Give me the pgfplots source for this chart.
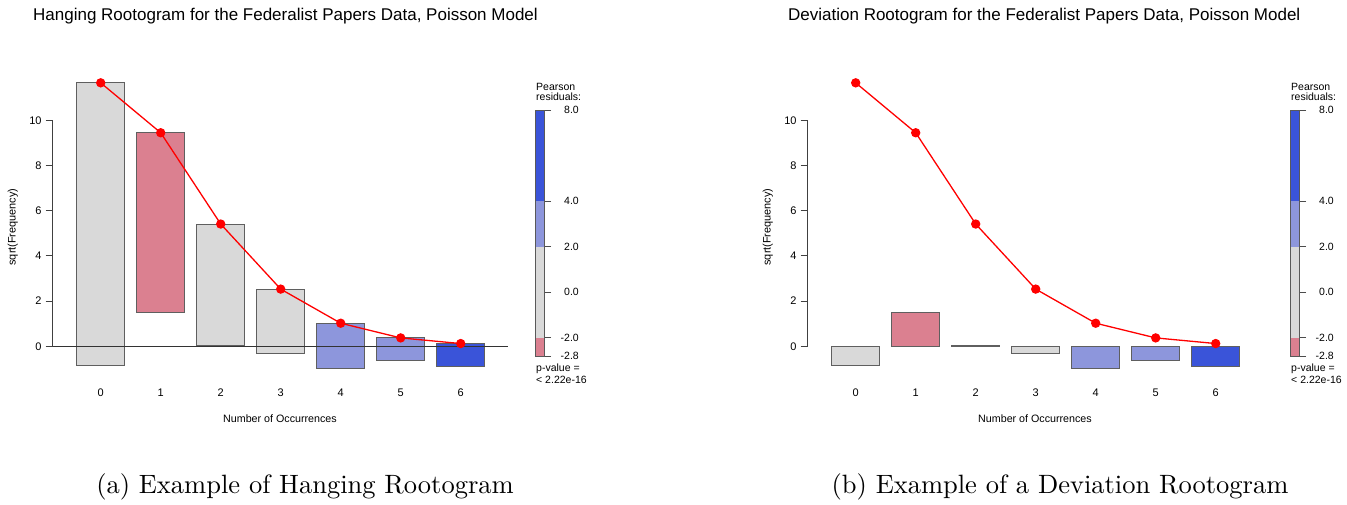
\documentclass[border=0pt]{standalone}
\usepackage{fontspec}
\usepackage{pgfplots}
\pgfplotsset{compat=1.18}
\usepackage{pgfplotstable}
\newfontfamily\arial{Liberation Sans}
\newfontfamily\capfont{lmroman10-regular}[Extension=.otf]
\definecolor{rgray}{RGB}{217,217,217}
\definecolor{rpink}{RGB}{219,128,144}
\definecolor{rlblue}{RGB}{141,150,220}
\definecolor{rdblue}{RGB}{58,84,217}
\definecolor{redge}{RGB}{95,95,95}

% x = number of occurrences, top = sqrt(expected), bottom = sqrt(expected)-sqrt(observed)
\pgfplotstableread{
x top bottom
0 11.66 -0.84
1 9.45 1.50
2 5.41 0.02
3 2.53 -0.30
4 1.02 -0.98
5 0.37 -0.63
6 0.12 -0.88
}\rootdata

\pgfplotsset{
  rootaxis/.style={
    scale only axis, width=455.4pt, height=308.4pt,
    xmin=-0.8, xmax=6.79, ymin=-1.48, ymax=12.17,
    clip=false,
    axis line style={draw=none},
    xtick={0,...,6}, ytick={0,2,...,10},
    xtick pos=bottom, ytick pos=left,
    xtick style={draw=none},
    tick align=outside, major tick length=7pt,
    ytick style={draw=black!75, line width=0.8pt},
    /pgf/number format/assume math mode=true,
    tick label style={font=\arial\fontsize{11}{13}\selectfont},
    xticklabel style={anchor=north, inner sep=2pt},
    yticklabel style={anchor=east, inner sep=2pt, xshift=-2pt},
    every axis x label/.style={at={(axis description cs:0.4991,-0.1274)}, anchor=center, font=\arial\fontsize{10.7}{13}\selectfont},
    every axis y label/.style={at={(axis description cs:-0.0878,0.4951)}, anchor=center, rotate=90, font=\arial\fontsize{10.9}{13}\selectfont},
    xlabel={Number of Occurrences}, ylabel={sqrt(Frequency)},
  },
  legaxis/.style={
    scale only axis, width=9pt, height=246pt,
    xmin=0, xmax=1, ymin=-2.8, ymax=8,
    clip=false,
    axis line style={draw=none},
    xtick=\empty,
    ytick={-2.8,-2,0,2,4,8}, yticklabels={-2.8,-2.0,0.0,2.0,4.0,8.0},
    ytick pos=right, tick align=outside, major tick length=7pt,
    ytick style={draw=black!70, line width=0.7pt},
    yticklabel style={font=\arial\fontsize{10.5}{12}\selectfont, anchor=east, inner sep=0pt, xshift=28pt},
  },
  rootline/.style={red, line width=1.3pt, mark=*, mark size=4pt, mark options={fill=red, draw=red, solid}},
  rbar/.style={fill=#1, draw=redge, line width=0.9pt},
}

\newcommand{\legendbar}{%
  \addplot[fill=rpink, draw=none] coordinates {(0,-2.8) (1,-2.8) (1,-2) (0,-2)} -- cycle;
  \addplot[fill=rgray, draw=none] coordinates {(0,-2) (1,-2) (1,2) (0,2)} -- cycle;
  \addplot[fill=rlblue, draw=none] coordinates {(0,2) (1,2) (1,4) (0,4)} -- cycle;
  \addplot[fill=rdblue, draw=none] coordinates {(0,4) (1,4) (1,8) (0,8)} -- cycle;
  \addplot[draw=black!65, line width=0.6pt] coordinates {(0,-2.8) (1,-2.8) (1,8) (0,8)} -- cycle;
}

\begin{document}
\begin{tikzpicture}
\path[use as bounding box] (0,0) rectangle (1347pt,504pt);

% ---------------- Hanging rootogram ----------------
\begin{axis}[rootaxis, at={(52.7pt,124.3pt)}, anchor=south west]
  \addplot[rbar=rgray]  coordinates {(-0.4,-0.84) (0.4,-0.84) (0.4,11.66) (-0.4,11.66)} -- cycle;
  \addplot[rbar=rpink]  coordinates {(0.6,1.50) (1.4,1.50) (1.4,9.45) (0.6,9.45)} -- cycle;
  \addplot[rbar=rgray]  coordinates {(1.6,0.02) (2.4,0.02) (2.4,5.41) (1.6,5.41)} -- cycle;
  \addplot[rbar=rgray]  coordinates {(2.6,-0.30) (3.4,-0.30) (3.4,2.53) (2.6,2.53)} -- cycle;
  \addplot[rbar=rlblue] coordinates {(3.6,-0.98) (4.4,-0.98) (4.4,1.02) (3.6,1.02)} -- cycle;
  \addplot[rbar=rlblue] coordinates {(4.6,-0.63) (5.4,-0.63) (5.4,0.37) (4.6,0.37)} -- cycle;
  \addplot[rbar=rdblue] coordinates {(5.6,-0.88) (6.4,-0.88) (6.4,0.12) (5.6,0.12)} -- cycle;
  \addplot[black!80, line width=0.9pt] coordinates {(-0.8,0) (6.79,0)};
  \addplot[black!75, line width=0.8pt] coordinates {(-0.8,0) (-0.8,10)};
  \addplot[rootline] table[x=x, y=top] {\rootdata};
\end{axis}

\begin{axis}[legaxis, at={(535pt,148pt)}, anchor=south west]
  \legendbar
\end{axis}

% ---------------- Deviation rootogram ----------------
\begin{axis}[rootaxis, at={(807.7pt,124.3pt)}, anchor=south west]
  \addplot[rbar=rgray]  coordinates {(-0.4,-0.84) (0.4,-0.84) (0.4,0) (-0.4,0)} -- cycle;
  \addplot[rbar=rpink]  coordinates {(0.6,1.50) (1.4,1.50) (1.4,0) (0.6,0)} -- cycle;
  \addplot[rbar=rgray]  coordinates {(1.6,0.02) (2.4,0.02) (2.4,0) (1.6,0)} -- cycle;
  \addplot[rbar=rgray]  coordinates {(2.6,-0.30) (3.4,-0.30) (3.4,0) (2.6,0)} -- cycle;
  \addplot[rbar=rlblue] coordinates {(3.6,-0.98) (4.4,-0.98) (4.4,0) (3.6,0)} -- cycle;
  \addplot[rbar=rlblue] coordinates {(4.6,-0.63) (5.4,-0.63) (5.4,0) (4.6,0)} -- cycle;
  \addplot[rbar=rdblue] coordinates {(5.6,-0.88) (6.4,-0.88) (6.4,0) (5.6,0)} -- cycle;
  \addplot[black!75, line width=0.8pt] coordinates {(-0.8,0) (-0.8,10)};
  \addplot[rootline] table[x=x, y=top] {\rootdata};
\end{axis}

\begin{axis}[legaxis, at={(1290pt,148pt)}, anchor=south west]
  \legendbar
\end{axis}

% ---------------- texts ----------------
\foreach \dx/\ttl in {0/Hanging, 755/Deviation} {
  \node[anchor=west, inner sep=0pt, font=\arial\fontsize{17}{20}\selectfont]
    at ({33pt+\dx pt},488pt) {\ttl\ Rootogram for the Federalist Papers Data, Poisson Model};
  \node[anchor=west, inner sep=0pt, font=\arial\fontsize{10.5}{12}\selectfont] at ({536pt+\dx pt},417pt) {Pearson};
  \node[anchor=west, inner sep=0pt, font=\arial\fontsize{10.5}{12}\selectfont] at ({536pt+\dx pt},407pt) {residuals:};
  \node[anchor=west, inner sep=0pt, font=\arial\fontsize{10.5}{12}\selectfont] at ({536pt+\dx pt},135pt) {p-value =};
  \node[anchor=west, inner sep=0pt, font=\arial\fontsize{10.5}{12}\selectfont] at ({536pt+\dx pt},124pt) {< 2.22e-16};
}
\node[inner sep=0pt, font=\capfont\fontsize{26.5}{31}\selectfont] at (305pt,17pt) {(a) Example of Hanging Rootogram};
\node[inner sep=0pt, font=\capfont\fontsize{26.5}{31}\selectfont] at (1060pt,17pt) {(b) Example of a Deviation Rootogram};
\end{tikzpicture}
\end{document}
